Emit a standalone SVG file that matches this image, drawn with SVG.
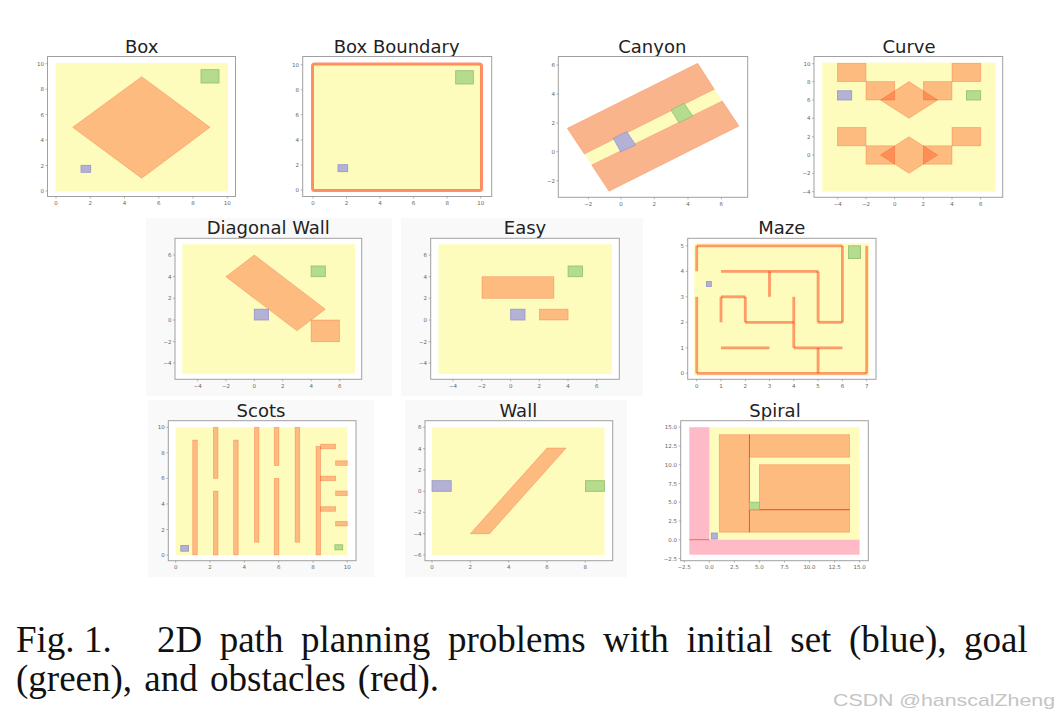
<svg xmlns="http://www.w3.org/2000/svg" width="1060" height="720" viewBox="0 0 1060 720">
<style>
.frame{fill:#fff;stroke:#a0a0a0;stroke-width:1}
.ws{fill:#fdfcbc}
.ob{fill:#ff3300;fill-opacity:0.32;stroke:#ee3a10;stroke-opacity:0.3;stroke-width:0.8}
.obw{fill:#f9b48c;stroke:#f08a60;stroke-opacity:0.5;stroke-width:0.8}
.pk{fill:#ff0030;fill-opacity:0.27}
.rl{stroke:#f03010;stroke-opacity:0.6;stroke-width:1;fill:none}
.mw{stroke:#ff3a10;stroke-opacity:0.5;stroke-width:2.8;fill:none}
.init{fill:#b3b1d6;stroke:#9895c6;stroke-width:0.8}
.goal{fill:#b5db8e;stroke:#8fc06c;stroke-width:0.8}
.tk{stroke:#888;stroke-width:0.6}
.tl{font-family:"DejaVu Sans",sans-serif;font-size:5.5px;fill:#666}
.ty{text-anchor:end}
.tx{text-anchor:middle}
.title{font-family:"DejaVu Sans",sans-serif;font-size:18px;fill:#222;text-anchor:middle}
.cap{font-family:"Liberation Serif","Times New Roman",serif;font-size:37px;fill:#111}
.pbg{fill:#f9f9f9}
</style>
<rect width="1060" height="720" fill="#fff"/>

<!-- Panel 1: Box -->
<g id="box">
<text class="title" x="141.7" y="53">Box</text>
<rect class="frame" x="47.5" y="56.5" width="188" height="140"/>
<rect class="ws" x="55.5" y="63" width="172.5" height="128.5"/>
<polygon class="ob" points="141.7,76.7 210,127.3 141.7,178.3 72.7,127.3"/>
<rect class="goal" x="201" y="69.7" width="18" height="13.3"/>
<rect class="init" x="81" y="165.3" width="9.7" height="7"/>
<path class="tk" d="M56,196.5v2M90.3,196.5v2M124.5,196.5v2M158.8,196.5v2M193,196.5v2M227.3,196.5v2M47.5,191h-2M47.5,165.5h-2M47.5,140h-2M47.5,114.6h-2M47.5,89.2h-2M47.5,63.7h-2"/>
<g class="tl tx"><text x="56" y="205">0</text><text x="90.3" y="205">2</text><text x="124.5" y="205">4</text><text x="158.8" y="205">6</text><text x="193" y="205">8</text><text x="227.3" y="205">10</text></g>
<g class="tl ty"><text x="44" y="193">0</text><text x="44" y="167.5">2</text><text x="44" y="142">4</text><text x="44" y="116.6">6</text><text x="44" y="91.2">8</text><text x="44" y="65.7">10</text></g>
</g>

<!-- Panel 2: Box Boundary -->
<g id="box-boundary">
<text class="title" x="396.7" y="53">Box Boundary</text>
<rect class="frame" x="302.7" y="56.5" width="189" height="140"/>
<rect class="ws" x="312.5" y="64" width="169" height="126.5"/>
<rect x="312.5" y="64" width="169" height="126.5" rx="2" fill="none" stroke="#ff3300" stroke-opacity="0.55" stroke-width="3"/>
<rect class="goal" x="455.7" y="70.7" width="17.6" height="13.3"/>
<rect class="init" x="338" y="164.7" width="9.7" height="7"/>
<path class="tk" d="M313,196.5v2M346.5,196.5v2M380,196.5v2M413.6,196.5v2M447.2,196.5v2M480.7,196.5v2M302.7,190h-2M302.7,165h-2M302.7,139.9h-2M302.7,114.8h-2M302.7,89.8h-2M302.7,64.7h-2"/>
<g class="tl tx"><text x="313" y="205">0</text><text x="346.5" y="205">2</text><text x="380" y="205">4</text><text x="413.6" y="205">6</text><text x="447.2" y="205">8</text><text x="480.7" y="205">10</text></g>
<g class="tl ty"><text x="299" y="192">0</text><text x="299" y="167">2</text><text x="299" y="141.9">4</text><text x="299" y="116.8">6</text><text x="299" y="91.8">8</text><text x="299" y="66.7">10</text></g>
</g>

<!-- Panel 3: Canyon -->
<g id="canyon">
<text class="title" x="652.3" y="53">Canyon</text>
<rect class="frame" x="558.3" y="56.5" width="189.4" height="140.8"/>
<polygon class="ws" points="584.3,154 714.3,89.3 722.3,101 591.7,165"/>
<polygon class="obw" points="567.3,128.3 697.7,63.3 714.3,89.3 584.3,154"/>
<polygon class="obw" points="591.7,165 722.3,101 739,126 609,191.3"/>
<polygon class="init" points="613.3,138.3 626.7,131.7 635.7,145 620.7,151.7"/>
<polygon class="goal" points="671,110 684,103.3 692.7,116 679,122.7"/>
<path class="tk" d="M588.3,197.3v2M621,197.3v2M654.3,197.3v2M688,197.3v2M721.3,197.3v2M558.3,65h-2M558.3,94h-2M558.3,123h-2M558.3,151.7h-2M558.3,180.7h-2"/>
<g class="tl tx"><text x="588.3" y="205.5">−2</text><text x="621" y="205.5">0</text><text x="654.3" y="205.5">2</text><text x="688" y="205.5">4</text><text x="721.3" y="205.5">6</text></g>
<g class="tl ty"><text x="555" y="67">6</text><text x="555" y="96">4</text><text x="555" y="125">2</text><text x="555" y="153.7">0</text><text x="555" y="182.7">−2</text></g>
</g>

<!-- Panel 4: Curve -->
<g id="curve">
<text class="title" x="909" y="53">Curve</text>
<rect class="frame" x="814" y="56.5" width="188.7" height="140.8"/>
<rect class="ws" x="822.3" y="62.7" width="173.4" height="129"/>
<rect class="ob" x="837.4" y="63.3" width="28.6" height="18.3"/>
<rect class="ob" x="866" y="81.6" width="28.7" height="18.4"/>
<rect class="ob" x="923.4" y="81.6" width="28.6" height="18.4"/>
<rect class="ob" x="952" y="63.3" width="28.7" height="18.3"/>
<polygon class="ob" points="909,81.6 937.7,100 909,118.3 880.4,100"/>
<rect class="ob" x="837.4" y="127.5" width="28.6" height="18.3"/>
<rect class="ob" x="866" y="145.8" width="28.7" height="18.4"/>
<rect class="ob" x="923.4" y="145.8" width="28.6" height="18.4"/>
<rect class="ob" x="952" y="127.5" width="28.7" height="18.3"/>
<polygon class="ob" points="909,136.7 937.7,155 909,173.3 880.4,155"/>
<rect class="init" x="837.4" y="90.8" width="14.3" height="9.2"/>
<rect class="goal" x="966.4" y="90.8" width="14.3" height="9.2"/>
<path class="tk" d="M837.7,197.3v2M866,197.3v2M894.7,197.3v2M923.3,197.3v2M952,197.3v2M980.7,197.3v2M814,63.7h-2M814,81.7h-2M814,100h-2M814,118.3h-2M814,136.7h-2M814,155h-2M814,173.3h-2M814,191.7h-2"/>
<g class="tl tx"><text x="837.7" y="205.5">−4</text><text x="866" y="205.5">−2</text><text x="894.7" y="205.5">0</text><text x="923.3" y="205.5">2</text><text x="952" y="205.5">4</text><text x="980.7" y="205.5">6</text></g>
<g class="tl ty"><text x="810.5" y="65.7">10</text><text x="810.5" y="83.7">8</text><text x="810.5" y="102">6</text><text x="810.5" y="120.3">4</text><text x="810.5" y="138.7">2</text><text x="810.5" y="157">0</text><text x="810.5" y="175.3">−2</text><text x="810.5" y="193.7">−4</text></g>
</g>

<!-- Panel 5: Diagonal Wall -->
<g id="diagonal-wall">
<rect class="pbg" x="146" y="218" width="246" height="178"/>
<text class="title" x="268.3" y="234.3">Diagonal Wall</text>
<rect class="frame" x="175" y="238.3" width="186.7" height="141"/>
<rect class="ws" x="182.3" y="244.3" width="172.7" height="129.5"/>
<polygon class="ob" points="254.3,255 325.3,309.2 296.9,330.8 225.9,276.7"/>
<rect class="ob" x="311.1" y="320" width="28.4" height="21.7"/>
<rect class="goal" x="311.1" y="266" width="14.2" height="10.7"/>
<rect class="init" x="254.3" y="309.2" width="14.2" height="10.8"/>
<path class="tk" d="M197.7,379.3v2M226,379.3v2M254.3,379.3v2M282.7,379.3v2M311.3,379.3v2M339.7,379.3v2M175,255h-2M175,276.7h-2M175,298.3h-2M175,320h-2M175,341.7h-2M175,363h-2"/>
<g class="tl tx"><text x="197.7" y="388">−4</text><text x="226" y="388">−2</text><text x="254.3" y="388">0</text><text x="282.7" y="388">2</text><text x="311.3" y="388">4</text><text x="339.7" y="388">6</text></g>
<g class="tl ty"><text x="171.5" y="257">6</text><text x="171.5" y="278.7">4</text><text x="171.5" y="300.3">2</text><text x="171.5" y="322">0</text><text x="171.5" y="343.7">−2</text><text x="171.5" y="365">−4</text></g>
</g>

<!-- Panel 6: Easy -->
<g id="easy">
<rect class="pbg" x="401" y="218" width="242" height="178"/>
<text class="title" x="525" y="234.3">Easy</text>
<rect class="frame" x="430.7" y="238.3" width="188.6" height="141"/>
<rect class="ws" x="438.5" y="244.3" width="173.5" height="129.7"/>
<rect class="ob" x="482" y="276.7" width="71.8" height="21.6"/>
<rect class="ob" x="539.4" y="309.2" width="28.7" height="10.8"/>
<rect class="init" x="510.7" y="309.2" width="14.3" height="10.8"/>
<rect class="goal" x="568.1" y="266" width="14.3" height="10.7"/>
<path class="tk" d="M453,379.3v2M481.7,379.3v2M510.7,379.3v2M539.3,379.3v2M568,379.3v2M596.7,379.3v2M430.7,255h-2M430.7,276.7h-2M430.7,298.3h-2M430.7,320h-2M430.7,341.7h-2M430.7,363h-2"/>
<g class="tl tx"><text x="453" y="388">−4</text><text x="481.7" y="388">−2</text><text x="510.7" y="388">0</text><text x="539.3" y="388">2</text><text x="568" y="388">4</text><text x="596.7" y="388">6</text></g>
<g class="tl ty"><text x="427" y="257">6</text><text x="427" y="278.7">4</text><text x="427" y="300.3">2</text><text x="427" y="322">0</text><text x="427" y="343.7">−2</text><text x="427" y="365">−4</text></g>
</g>

<!-- Panel 7: Maze -->
<g id="maze">
<text class="title" x="781.7" y="234.3">Maze</text>
<rect class="frame" x="687.7" y="238.3" width="188.3" height="141"/>
<rect class="ws" x="694.3" y="243.3" width="174.8" height="132.6"/>
<path class="mw" d="M696.7,245.8H842.4"/>
<path class="mw" d="M696.7,245.8V271.3"/>
<path class="mw" d="M696.7,296.8V373.3"/>
<path class="mw" d="M696.7,373.3H866.7"/>
<path class="mw" d="M866.7,245.8V373.3"/>
<path class="mw" d="M842.4,245.8V322.3"/>
<path class="mw" d="M818.1,322.3H842.4"/>
<path class="mw" d="M818.1,271.3V322.3"/>
<path class="mw" d="M721,271.3H818.1"/>
<path class="mw" d="M769.5,271.3V296.8"/>
<path class="mw" d="M721,296.8H745.3"/>
<path class="mw" d="M721,296.8V322.3"/>
<path class="mw" d="M745.3,296.8V322.3"/>
<path class="mw" d="M745.3,322.3H793.8"/>
<path class="mw" d="M793.8,296.8V347.8"/>
<path class="mw" d="M793.8,347.8H842.4"/>
<path class="mw" d="M818.1,347.8V373.3"/>
<path class="mw" d="M721,347.8H769.5"/>
<rect class="goal" x="848.5" y="245.8" width="12.1" height="12.8"/>
<rect class="init" x="706.4" y="281.5" width="4.9" height="5.1"/>
<path class="tk" d="M696.7,379.3v2M721,379.3v2M745.3,379.3v2M769.5,379.3v2M793.8,379.3v2M818.1,379.3v2M842.4,379.3v2M866.7,379.3v2M687.7,373.3h-2M687.7,347.8h-2M687.7,322.3h-2M687.7,296.8h-2M687.7,271.3h-2M687.7,245.8h-2"/>
<g class="tl tx"><text x="696.7" y="388">0</text><text x="721" y="388">1</text><text x="745.3" y="388">2</text><text x="769.5" y="388">3</text><text x="793.8" y="388">4</text><text x="818.1" y="388">5</text><text x="842.4" y="388">6</text><text x="866.7" y="388">7</text></g>
<g class="tl ty"><text x="684" y="375.3">0</text><text x="684" y="349.8">1</text><text x="684" y="324.3">2</text><text x="684" y="298.8">3</text><text x="684" y="273.3">4</text><text x="684" y="247.8">5</text></g>
</g>

<!-- Panel 8: Scots -->
<g id="scots">
<rect class="pbg" x="148" y="400" width="226" height="177"/>
<text class="title" x="261" y="416.7">Scots</text>
<rect class="frame" x="168.3" y="420.7" width="187.7" height="140"/>
<rect class="ws" x="175.7" y="427.3" width="171.6" height="127.7"/>
<rect class="ob" x="192.7" y="440.1" width="4.6" height="114.9"/>
<rect class="ob" x="213.4" y="427.3" width="4.6" height="51.1"/>
<rect class="ob" x="213.4" y="491.2" width="4.6" height="63.8"/>
<rect class="ob" x="233.6" y="440.1" width="4.6" height="114.9"/>
<rect class="ob" x="254.4" y="427.3" width="4.6" height="114.9"/>
<rect class="ob" x="274.3" y="427.3" width="4.6" height="38.3"/>
<rect class="ob" x="274.3" y="478.4" width="4.6" height="76.6"/>
<rect class="ob" x="295.1" y="427.3" width="4.6" height="114.9"/>
<rect class="ob" x="316" y="446.5" width="4.6" height="108.5"/>
<rect class="ob" x="320.6" y="444.2" width="15" height="4.6"/>
<rect class="ob" x="320.6" y="476.1" width="15" height="4.6"/>
<rect class="ob" x="320.6" y="506.7" width="15" height="4.6"/>
<rect class="ob" x="335.6" y="460.8" width="11.7" height="4.6"/>
<rect class="ob" x="335.6" y="491" width="11.7" height="4.6"/>
<rect class="ob" x="335.6" y="521.4" width="11.7" height="4.6"/>
<rect class="init" x="180.8" y="545.4" width="7.8" height="5.8"/>
<rect class="goal" x="334.9" y="544.8" width="7.8" height="5.1"/>
<path class="tk" d="M175.7,560.7v2M210,560.7v2M244.3,560.7v2M278.7,560.7v2M313,560.7v2M347.3,560.7v2M168.3,555h-2M168.3,529.5h-2M168.3,504h-2M168.3,478.4h-2M168.3,452.8h-2M168.3,427.3h-2"/>
<g class="tl tx"><text x="175.7" y="569">0</text><text x="210" y="569">2</text><text x="244.3" y="569">4</text><text x="278.7" y="569">6</text><text x="313" y="569">8</text><text x="347.3" y="569">10</text></g>
<g class="tl ty"><text x="164.8" y="557">0</text><text x="164.8" y="531.5">2</text><text x="164.8" y="506">4</text><text x="164.8" y="480.4">6</text><text x="164.8" y="454.8">8</text><text x="164.8" y="429.3">10</text></g>
</g>

<!-- Panel 9: Wall -->
<g id="wall">
<rect class="pbg" x="405" y="400" width="222" height="177"/>
<text class="title" x="518.3" y="416.7">Wall</text>
<rect class="frame" x="425" y="420.7" width="187.7" height="140"/>
<rect class="ws" x="432" y="427.5" width="172.5" height="127.5"/>
<polygon class="ob" points="470.3,533.7 489.5,533.7 566.2,448 547,448"/>
<rect class="init" x="432" y="480.7" width="19.2" height="10.6"/>
<rect class="goal" x="585.4" y="480.7" width="19.1" height="10.6"/>
<path class="tk" d="M432,560.7v2M470.3,560.7v2M508.7,560.7v2M547,560.7v2M585.3,560.7v2M425,427.3h-2M425,448.7h-2M425,470h-2M425,491.3h-2M425,512.3h-2M425,533.7h-2M425,555h-2"/>
<g class="tl tx"><text x="432" y="569">0</text><text x="470.3" y="569">2</text><text x="508.7" y="569">4</text><text x="547" y="569">6</text><text x="585.3" y="569">8</text></g>
<g class="tl ty"><text x="421.5" y="429.3">6</text><text x="421.5" y="450.7">4</text><text x="421.5" y="472">2</text><text x="421.5" y="493.3">0</text><text x="421.5" y="514.3">−2</text><text x="421.5" y="535.7">−4</text><text x="421.5" y="557">−6</text></g>
</g>

<!-- Panel 10: Spiral -->
<g id="spiral">
<text class="title" x="775" y="416.7">Spiral</text>
<rect class="frame" x="680.7" y="420.7" width="187.6" height="140"/>
<rect class="ws" x="709.3" y="427.2" width="150.3" height="112.5"/>
<rect class="pk" x="689.3" y="427.2" width="20" height="112.5"/>
<rect class="pk" x="689.3" y="539.7" width="170.3" height="15"/>
<path class="rl" d="M689.3,539.7H709.3"/>
<rect class="ob" x="719.3" y="434.7" width="30.1" height="97.5"/>
<rect class="ob" x="749.4" y="434.7" width="100.2" height="22.5"/>
<rect class="ob" x="759.4" y="464.7" width="90.2" height="45"/>
<rect class="ob" x="749.4" y="509.7" width="100.2" height="22.5"/>
<path class="rl" d="M749.4,434.7V532.2M749.4,509.7H849.6"/>
<rect class="goal" x="749.4" y="502.2" width="10" height="7.5"/>
<rect class="init" x="711.3" y="533" width="6" height="6"/>
<path class="tk" d="M684.2,560.7v2M709.3,560.7v2M734.4,560.7v2M759.4,560.7v2M784.5,560.7v2M809.5,560.7v2M834.6,560.7v2M859.6,560.7v2M680.7,427.2h-2M680.7,446h-2M680.7,464.7h-2M680.7,483.5h-2M680.7,502.2h-2M680.7,521h-2M680.7,539.7h-2M680.7,558.5h-2"/>
<g class="tl tx"><text x="684.2" y="569">−2.5</text><text x="709.3" y="569">0.0</text><text x="734.4" y="569">2.5</text><text x="759.4" y="569">5.0</text><text x="784.5" y="569">7.5</text><text x="809.5" y="569">10.0</text><text x="834.6" y="569">12.5</text><text x="859.6" y="569">15.0</text></g>
<g class="tl ty"><text x="677" y="429.2">15.0</text><text x="677" y="448">12.5</text><text x="677" y="466.7">10.0</text><text x="677" y="485.5">7.5</text><text x="677" y="504.2">5.0</text><text x="677" y="523">2.5</text><text x="677" y="541.7">0.0</text><text x="677" y="560.5">−2.5</text></g>
</g>

<!-- Caption -->
<g id="caption" class="cap">
<text y="652"><tspan x="16">Fig.</tspan><tspan x="84">1.</tspan><tspan x="157">2D</tspan><tspan x="219.7">path</tspan><tspan x="300.9">planning</tspan><tspan x="447.9">problems</tspan><tspan x="603.1">with</tspan><tspan x="686.4">initial</tspan><tspan x="790.3">set</tspan><tspan x="848.9">(blue),</tspan><tspan x="964">goal</tspan></text>
<text x="16" y="691" word-spacing="3">(green), and obstacles (red).</text>
</g>
<text x="833" y="706" font-family="'Liberation Sans',Arial,sans-serif" font-size="17" fill="#c4c4c4" textLength="222" lengthAdjust="spacingAndGlyphs">CSDN @hanscalZheng</text>
</svg>
